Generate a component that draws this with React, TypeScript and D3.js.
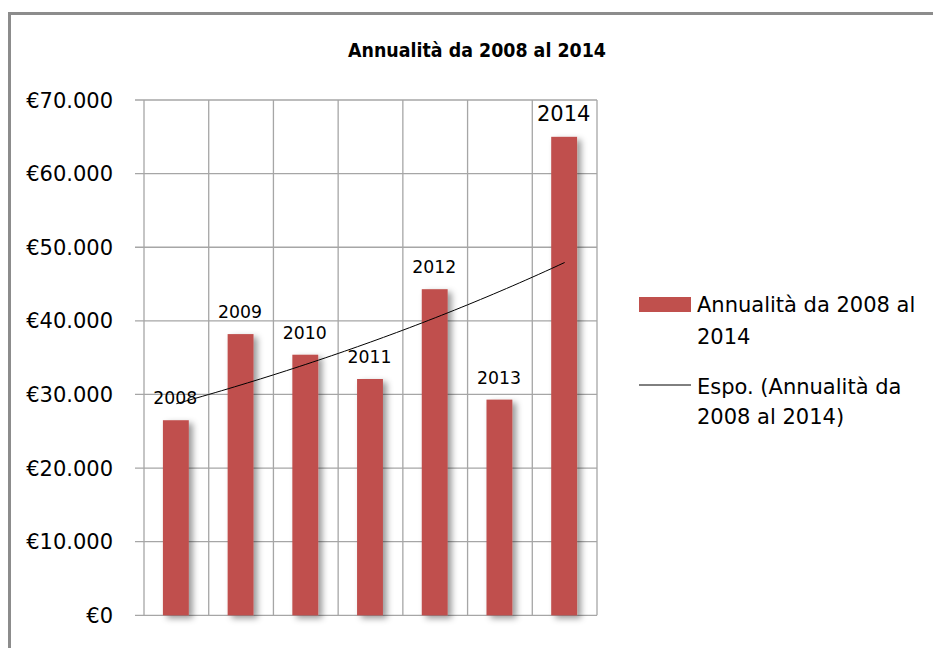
import React from "react";
import * as d3 from "d3";

const categories = ["2008", "2009", "2010", "2011", "2012", "2013", "2014"];
const values = [26500, 38200, 35400, 32100, 44300, 29300, 65000];
const yTicks = [0, 10000, 20000, 30000, 40000, 50000, 60000, 70000];
const title = "Annualità da 2008 al 2014";
const legendBar = ["Annualità da 2008 al", "2014"];
const legendTrend = ["Espo. (Annualità da", "2008 al 2014)"];

const W = 933;
const H = 648;
const FONT = "'DejaVu Sans', sans-serif";

export default function App() {
  const x = d3.scaleBand().domain(categories).range([144, 597]).paddingInner(0).paddingOuter(0);
  const y = d3.scaleLinear().domain([0, 70000]).range([615.3, 100]);
  const barW = x.bandwidth() * 0.4;

  // exponential trendline fit (least squares on ln y)
  const xs = categories.map((_, i) => i + 1);
  const ls = values.map((v) => Math.log(v));
  const mx = d3.mean(xs) as number;
  const ml = d3.mean(ls) as number;
  const slope =
    (d3.sum(xs.map((xi, i) => (xi - mx) * (ls[i] - ml))) as number) /
    (d3.sum(xs.map((xi) => (xi - mx) ** 2)) as number);
  const intercept = ml - slope * mx;
  const trendPts: [number, number][] = d3.range(1, 7.001, 0.1).map((t) => {
    const px = (x(categories[0]) as number) + x.bandwidth() / 2 + (t - 1) * x.bandwidth();
    return [px, y(Math.exp(intercept + slope * t))];
  });
  const line = d3.line();

  const fmt = (v: number) => "€" + d3.format(",")(v).replace(/,/g, ".");

  return (
    <div style={{ position: "fixed", left: 0, top: 0 }}>
      <svg width={W} height={H} style={{ display: "block", background: "#fff" }}>
        <defs>
          <filter id="sh" x="-30%" y="-10%" width="180%" height="130%">
            <feDropShadow dx="4" dy="3" stdDeviation="3" floodColor="#000" floodOpacity="0.4" />
          </filter>
        </defs>
        {/* frame */}
        <path d={`M9.5 ${H + 5} V13.5 H${W + 5}`} fill="none" stroke="#8c8c8c" strokeWidth={3} />
        {/* title */}
        <text x={477} y={56.5} textAnchor="middle" fontFamily={FONT} fontWeight="bold" fontSize={20}
          textLength={258} lengthAdjust="spacingAndGlyphs" fill="#000">{title}</text>

        {/* horizontal gridlines */}
        {yTicks.map((t) => (
          <g key={t}>
            <line x1={135} x2={597} y1={y(t)} y2={y(t)} stroke="#a6a6a6" strokeWidth={1.3} />
            <text x={113} y={y(t)} dy="0.36em" textAnchor="end" fontFamily={FONT} fontSize={21} fill="#000">
              {fmt(t)}
            </text>
          </g>
        ))}
        {/* vertical gridlines */}
        {categories.map((c) => (
          <line key={c} x1={x(c) as number} x2={x(c) as number} y1={y(70000)} y2={y(0)} stroke="#a6a6a6" strokeWidth={1.3} />
        ))}
        <line x1={597} x2={597} y1={y(70000)} y2={y(0)} stroke="#a6a6a6" strokeWidth={1.3} />

        {/* bars */}
        {categories.map((c, i) => {
          const cx = (x(c) as number) + x.bandwidth() / 2;
          return (
            <rect key={c} x={cx - barW / 2 - 0.5} y={y(values[i])} width={barW} height={y(0) - y(values[i])}
              fill="#c0504d" filter="url(#sh)" />
          );
        })}

        {/* trendline */}
        <path d={line(trendPts) as string} fill="none" stroke="#000" strokeWidth={1} />

        {/* data labels */}
        {categories.map((c, i) => {
          const cx = (x(c) as number) + x.bandwidth() / 2;
          const big = i === categories.length - 1;
          return (
            <text key={c} x={cx - 1} y={y(values[i]) - 16} textAnchor="middle" fontFamily={FONT}
              fontSize={big ? 21 : 17.3} fill="#000">{c}</text>
          );
        })}

        {/* legend */}
        <rect x={639} y={297} width={52} height={15} fill="#c0504d" />
        <text fontFamily={FONT} fontSize={21} fill="#000">
          <tspan x={697} y={311.5}>{legendBar[0]}</tspan>
          <tspan x={697} y={344}>{legendBar[1]}</tspan>
        </text>
        <line x1={639} x2={691} y1={385} y2={385} stroke="#000" strokeWidth={1} />
        <text fontFamily={FONT} fontSize={21} fill="#000">
          <tspan x={697} y={394}>{legendTrend[0]}</tspan>
          <tspan x={697} y={423.5}>{legendTrend[1]}</tspan>
        </text>
      </svg>
    </div>
  );
}
